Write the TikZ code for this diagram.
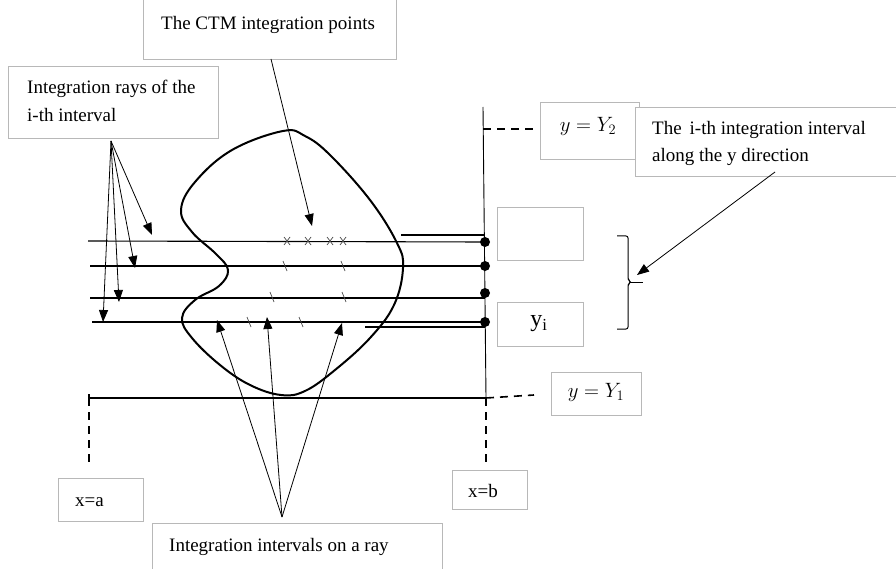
\documentclass[tikz,border=0pt]{standalone}
\usepackage{fontspec}
\setmainfont{Liberation Serif}
\usetikzlibrary{arrows.meta}
\begin{document}
\begin{tikzpicture}[x=1pt,y=-1pt,
  lbox/.style={draw=black!28,line width=0.8pt,fill=white},
  lbl/.style={inner sep=0pt,anchor=west,font=\fontsize{19}{22}\selectfont},
  mth/.style={inner sep=0pt,font=\fontsize{20}{24}\selectfont},
  ray/.style={line width=1.1pt},
  ptr/.style={line width=0.8pt,-{Triangle[length=12pt,width=9pt]}},
  dsh/.style={line width=1.6pt,dash pattern=on 8pt off 6pt},
  tick/.style={line width=0.7pt,black!70},
  dot/.style={circle,fill=black,inner sep=0pt,minimum size=10pt}]
\useasboundingbox[fill=white] (0,0) rectangle (896,569);

% blob
\draw[line width=2pt] plot[smooth cycle,tension=0.65] coordinates {
 (283,131) (232,150) (195,182) (181,210) (192,232) (216,254) (228,270)
 (219,286) (195,300) (182,318) (192,338) (220,365) (250,385) (281,395)
 (305,391) (335,370) (370,338) (394,305) (403,268) (397,243) (370,200)
 (330,155) (305,136)};

% rays
\coordinate (r1l) at (88,241); \coordinate (r2l) at (90,266);
\coordinate (r3l) at (90,298); \coordinate (r4l) at (92,322);
\node[dot] (d1) at (485,242) {};
\node[dot] (d2) at (485,266) {};
\node[dot] (d3) at (485,293) {};
\node[dot] (d4) at (485,322) {};
\draw[ray] (r1l) -- (d1.center);
\draw[ray] (r2l) -- (d2.center);
\draw[ray] (r3l) -- (r3l -| d3.center);
\draw[ray] (r4l) -- (d4.center);
\coordinate (e1) at (401,235); \coordinate (e2) at (365,327);
\draw[ray] (e1) -- (e1 -| d1.center);
\draw[ray] (e2) -- (e2 -| d4.center);

% vertical line x=b
\coordinate (vt) at (483,107); \coordinate (vb) at (486,398);
\coordinate (vbe) at (486,466);
\draw[line width=0.9pt] (vt) -- (vb);
\draw[dsh] (vb) -- (vbe);
% bottom line y=Y1
\coordinate (hl) at (89,398);
\coordinate (hle) at (89,464);
\draw[line width=1.1pt] (hl) -- (vb);
\draw[line width=1.1pt] (89,394) -- (hl);
\draw[dsh] (hl) -- (hle);

% integration point marks
\foreach \x in {287,308,330,343}{
  \draw[tick] (\x-3,237) -- (\x+3,245);
  \draw[tick] (\x+3,237) -- (\x-3,245);}
\foreach \x/\y in {285/266,343/266,272/297,344/297,249/322,301/322}{
  \draw[tick] (\x-2,\y-5) -- (\x+2,\y+5);}

% boxes
\node[lbox,minimum width=253pt,minimum height=64pt,anchor=north west] (ctm) at (143,-5) {};
\node[lbl] at (161,25) {The CTM integration points};
\node[lbox,minimum width=210pt,minimum height=72pt,anchor=north west] (rays) at (8,66) {};
\node[lbl] at (27,89) {Integration rays of the};
\node[lbl] at (27,115) {i-th interval};
\node[lbox,minimum width=99pt,minimum height=57pt,anchor=north west] (yb2) at (540,102) {};
\node[mth] at (588,126) {$y=Y_2$};
\node[lbox,minimum width=270pt,minimum height=69pt,anchor=north west] (ivl) at (635,107) {};
\node[lbl] at (652,130) {The\, i-th integration interval};
\node[lbl] at (652,157) {along the y direction};
\node[lbox,minimum width=86pt,minimum height=53pt,anchor=north west] (eb) at (497,207) {};
\node[lbox,minimum width=86pt,minimum height=44pt,anchor=north west] (yib) at (497,302) {};
\node[inner sep=0pt,font=\fontsize{24}{26}\selectfont] at (539,324) {y\textsubscript{i}};
\node[lbox,minimum width=90pt,minimum height=43pt,anchor=north west] (yb1) at (551,372) {};
\node[mth] at (596,392) {$y=Y_1$};
\node[lbox,minimum width=75pt,minimum height=39pt,anchor=north west] (xb) at (452,470) {};
\node[lbl] at (468,491) {x=b};
\node[lbox,minimum width=85pt,minimum height=43pt,anchor=north west] (xa) at (58,478) {};
\node[lbl] at (75,502) {x=a};
\node[lbox,minimum width=290pt,minimum height=60pt,anchor=north west] (iob) at (152,523) {};
\node[lbl] at (169,547) {Integration intervals on a ray};

% dashed leaders to Y labels
\coordinate (y2s) at (483,129); \coordinate (y2e) at (538,129);
\draw[dsh] (y2s) -- (y2e);
\coordinate (y1e) at (534,395);
\draw[dsh] (vb) -- (y1e);

% bracket
\draw[line width=1pt,rounded corners=2pt] (617,236) -- (628,236) -- (628,280) -- (631,282) -- (628,284) -- (628,329) -- (617,329);
\draw[line width=0.8pt] (630,282) -- (643,282);

% pointer arrows
\coordinate (ra) at (111,141);
\coordinate (rt1) at (152,235); \coordinate (rt2) at (135,268);
\coordinate (rt3) at (119,302); \coordinate (rt4) at (103,322);
\foreach \t in {rt1,rt2,rt3,rt4} \draw[ptr] (ra) -- (\t);
\coordinate (ca) at (271,59); \coordinate (ct) at (312,226);
\draw[ptr] (ca) -- (ct);
\coordinate (ia) at (282,517);
\coordinate (it1) at (217,320); \coordinate (it2) at (267,317); \coordinate (it3) at (342,323);
\foreach \t in {it1,it2,it3} \draw[ptr] (ia) -- (\t);
\coordinate (va) at (775,172); \coordinate (vtp) at (637,275);
\draw[ptr] (va) -- (vtp);
\end{tikzpicture}
\end{document}
